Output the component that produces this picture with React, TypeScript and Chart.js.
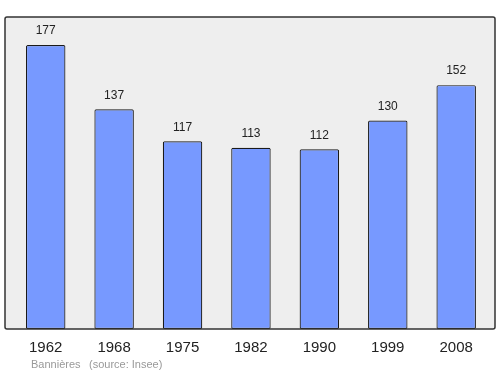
import React, { useEffect, useRef } from "react";
import { Chart, registerables } from "chart.js";

Chart.register(...registerables);

const years = ["1962", "1968", "1975", "1982", "1990", "1999", "2008"];
const population = [177, 137, 117, 113, 112, 130, 152];
const footerLeft = "Bannières";
const footerRight = "(source: Insee)";

const FONT = "'Liberation Sans', Arial, sans-serif";
const FRAME = { left: 5, right: 495 };

const decorPlugin = {
  id: "decor",
  beforeDraw(chart: any) {
    const { ctx, chartArea: a } = chart;
    ctx.save();
    ctx.fillStyle = "#eeeeee";
    ctx.fillRect(FRAME.left, a.top, FRAME.right - FRAME.left, a.bottom - a.top);
    ctx.restore();
  },
  afterDatasetsDraw(chart: any) {
    const { ctx, chartArea: a } = chart;
    ctx.save();
    ctx.strokeStyle = "#333333";
    ctx.lineWidth = 1.5;
    ctx.beginPath();
    if (ctx.roundRect) ctx.roundRect(FRAME.left, a.top, FRAME.right - FRAME.left, a.bottom - a.top, 2);
    else ctx.rect(FRAME.left, a.top, FRAME.right - FRAME.left, a.bottom - a.top);
    ctx.stroke();

    const meta = chart.getDatasetMeta(0);
    ctx.fillStyle = "#222222";
    ctx.textAlign = "center";
    ctx.textBaseline = "middle";
    ctx.font = `12px ${FONT}`;
    meta.data.forEach((bar: any, i: number) => {
      ctx.fillText(String(population[i]), bar.x, bar.y - 14);
    });
    ctx.font = `15px ${FONT}`;
    meta.data.forEach((bar: any, i: number) => {
      ctx.fillText(years[i], bar.x, a.bottom + 18.5);
    });
    ctx.fillStyle = "#999999";
    ctx.font = `11px ${FONT}`;
    ctx.textAlign = "left";
    ctx.fillText(footerLeft, 31, 365);
    ctx.fillText(footerRight, 89, 365);
    ctx.restore();
  },
};

export default function App() {
  const ref = useRef<HTMLCanvasElement>(null);
  useEffect(() => {
    if (!ref.current) return;
    const chart = new Chart(ref.current, {
      type: "bar",
      data: {
        labels: years,
        datasets: [
          {
            data: population,
            backgroundColor: "#7799ff",
            borderColor: "#1a1a1a",
            borderWidth: 1.2,
            borderSkipped: false,
            borderRadius: 1.5,
            categoryPercentage: 1,
            barPercentage: 0.577,
          },
        ],
      },
      options: {
        animation: false,
        responsive: false,
        maintainAspectRatio: false,
        layout: { padding: { left: 11.5, top: 17, right: 9.6, bottom: 45 } },
        plugins: { legend: { display: false }, tooltip: { enabled: false } },
        scales: {
          x: { display: false },
          y: { display: false, min: 0, max: 194.5 },
        },
      },
      plugins: [decorPlugin],
    });
    return () => chart.destroy();
  }, []);
  return (
    <div style={{ position: "absolute", left: 0, top: 0, width: 500, height: 374, background: "#fff" }}>
      <canvas ref={ref} width={500} height={374} style={{ width: 500, height: 374 }} />
    </div>
  );
}
